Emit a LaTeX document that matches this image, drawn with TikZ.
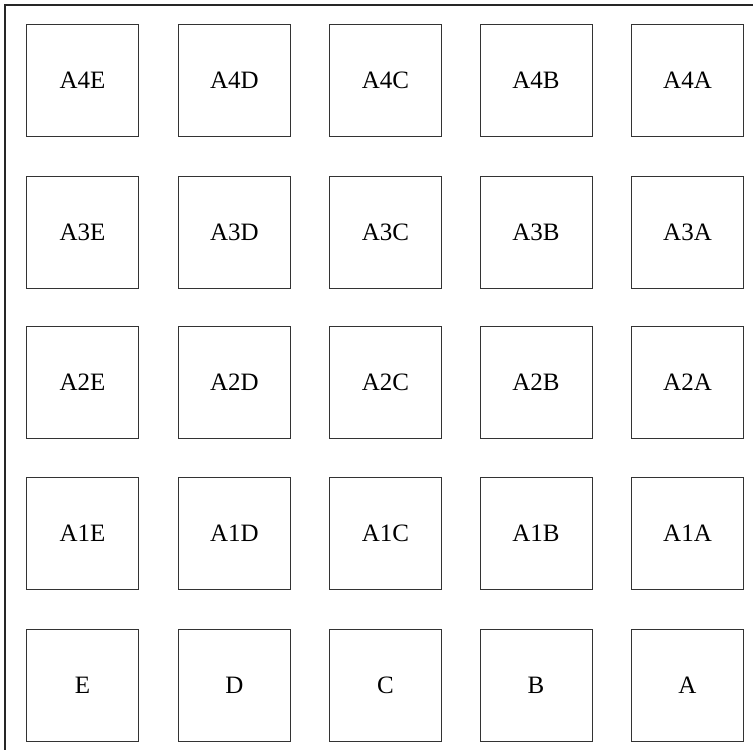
\documentclass[tikz,border=0pt]{standalone}
\usepackage{fontspec}
\setmainfont{Liberation Serif}
\begin{document}
\begin{tikzpicture}[x=1pt,y=-1pt,
  box/.style={draw=black!80,line width=1pt,minimum width=112pt,minimum height=112pt,inner sep=0pt,font=\fontsize{25}{28}\selectfont},
  frame/.style={draw=black!85,line width=2pt}]
\useasboundingbox (0,0) rectangle (753,750);
\draw[frame] (5,750) -- (5,5) -- (753,5);
\foreach \r/\y in {4/80.5,3/232,2/382,1/533}{
  \foreach \c/\x in {E/82.5,D/234.5,C/385.5,B/536,A/687.5}{
    \node[box] (A\r\c) at (\x,\y) {A\r\c};
  }
}
\foreach \c/\x in {E/82.5,D/234.5,C/385.5,B/536,A/687.5}{
  \node[box] (\c) at (\x,685) {\c};
}
\end{tikzpicture}
\end{document}
